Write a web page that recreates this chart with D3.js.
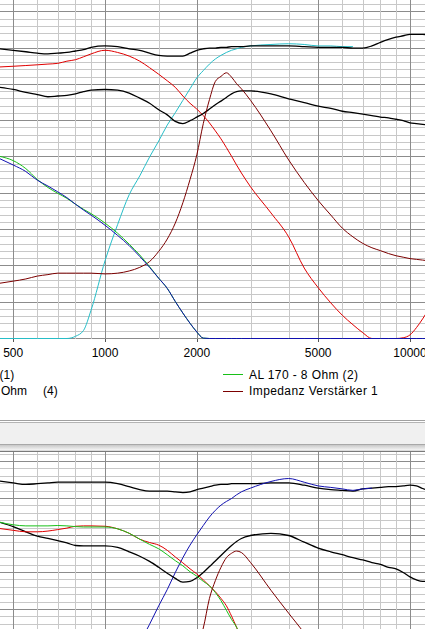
<!DOCTYPE html>
<html><head><meta charset="utf-8">
<script src="https://cdn.jsdelivr.net/npm/d3@7"></script>
<style>
html,body{margin:0;padding:0;background:#fff;overflow:hidden;}
svg{display:block;}
text{font-family:"Liberation Sans",Arial,sans-serif;fill:#000;}
</style></head><body>
<svg id="c" width="425" height="629"></svg>
<script>
// ---- data (frequency in Hz, level in dB) ----
const freqs = [450,500,550,600,650,700,750,800,850,900,
  1000,1100,1200,1300,1400,1500,1600,1700,1800,1900,
  2000,2100,2200,2300,2400,2500,2600,2700,2800,3000,
  3500,4000,4500,5000,5500,6000,6500,7000,7500,8000,
  8500,9000,9500,10000,10500,11000,11500];

// upper panel
const topBlackUpper = [84.9,84.7,84.5,84.3,84.2,84.3,84.4,84.6,84.8,85.1,
  85.3,85.2,84.9,84.7,84.3,84.0,83.9,83.9,83.9,84.3,
  84.7,84.9,85.0,85.0,85.1,85.1,85.2,85.2,85.2,85.3,
  85.3,85.3,85.2,85.1,85.1,85.1,85.0,85.0,85.3,85.8,
  86.2,86.5,86.7,86.9,86.9,86.9,86.8];
const topRed = [82.4,82.5,82.6,82.7,82.8,82.9,83.2,83.4,83.8,84.2,
  84.7,84.4,83.9,83.2,82.3,81.4,80.5,79.6,78.4,77.4,
  76.6,75.7,74.7,73.6,72.5,71.3,70.1,68.9,67.8,65.9,
  62.3,59.0,54.7,52.0,49.9,48.2,46.9,45.8,44.5,43.5,
  43.0,43.2,45.1,45.5,46.5,47.7,49.0];
const topBlackLower = [79.6,79.3,78.9,78.6,78.3,78.4,78.5,78.7,79.0,79.2,
  79.3,79.2,78.8,78.1,77.4,76.5,75.8,74.9,74.6,75.0,
  75.5,76.0,76.6,77.2,77.7,78.2,78.7,79.0,79.1,79.1,
  78.7,78.0,77.5,77.0,76.7,76.3,76.1,75.9,75.7,75.5,
  75.4,75.2,75.0,74.7,74.6,74.5,74.4];
const topCyan = [22,25,28,31,34,37,41,45.3,46.1,48.9,
  55.7,60.7,64.8,67.4,70.0,72.2,74.4,76.1,77.8,79.4,
  80.9,81.9,82.8,83.5,84.0,84.4,84.7,84.9,85.1,85.3,
  85.5,85.6,85.5,85.3,85.3,85.2,85.2,null,null,null,
  null,null,null,null,null,null,null];
const topGreen = [70.1,69.5,68.4,66.9,65.8,65.0,64.3,63.5,62.8,62.2,
  60.9,59.5,58.0,56.5,54.9,53.3,51.9,50.1,48.5,47.1,
  45.9,45.05,43.5,42,40.5,39,38,37,36,34,
  30,27,24,22,20,18,16,15,14,13,
  12,11,10,9,8,7,6];
const topBlue = [69.8,68.9,68.0,66.8,66.0,65.2,64.4,63.5,62.7,62.0,
  60.6,59.2,57.8,56.3,54.8,53.3,51.9,50.1,48.5,47.1,
  45.9,45.05,43.5,42,40.5,39,38,37,36,34,
  30,27,24,22,20,18,16,15,14,13,
  12,11,10,9,8,7,6];
const topDarkRed = [52.6,52.9,53.2,53.6,53.8,54.0,54.0,54.0,54.0,54.0,
  53.9,54.0,54.3,54.8,55.6,57.0,58.7,60.9,63.7,66.9,
  70.3,74.6,77.9,80.4,81.1,81.6,81.0,80.1,79.4,77.8,
  73.6,69.6,66.5,64.0,62.0,60.2,59.0,58.1,57.5,57.1,
  56.7,56.4,56.2,56.0,55.9,55.8,55.7];

// lower panel
const botBlackUpper = [87.35,87.1,86.9,87.0,87.1,87.2,87.2,87.2,87.2,87.2,
  87.2,87.0,86.6,86.2,86.0,86.0,86.0,85.9,85.8,85.9,
  86.2,86.4,86.6,86.8,86.9,86.9,87.0,87.0,87.0,87.0,
  87.1,87.1,86.8,86.4,86.2,86.1,86.0,86.3,86.4,86.5,
  86.6,86.6,86.7,86.8,86.7,86.35,86.1];
const botBlue = [null,null,null,null,null,null,null,null,null,null,
  null,null,63.0,65.5,68.0,70.5,72.7,75.0,77.0,78.7,
  80.1,81.35,82.5,83.4,84.1,84.6,85.0,85.5,85.9,86.4,
  87.3,87.7,87.2,86.7,86.5,86.3,86.1,86.3,86.4,null,
  null,null,null,null,null,null,null];
const botBlackLower = [81.8,81.2,80.5,79.9,79.6,79.3,79.0,78.65,78.6,78.6,
  78.6,78.4,77.8,77.2,76.5,75.7,74.9,74.2,73.7,73.8,
  74.3,75.0,75.8,76.55,77.3,78.0,78.65,79.2,79.6,80.0,
  80.3,80.0,79.1,78.3,77.8,77.4,77.0,76.7,76.35,76.1,
  75.7,75.5,75.0,74.4,74.0,73.8,73.8];
const botGreen = [81.8,81.45,81.3,81.3,81.3,81.35,81.3,81.2,81.15,81.15,
  81.15,80.9,80.3,79.5,78.8,78.2,77.4,76.6,75.9,75.1,
  74.5,73.8,73.2,72.3,71.2,69.9,68.65,67.6,66.0,62.0,
  null,null,null,null,null,null,null,null,null,null,
  null,null,null,null,null,null,null];
const botRed = [80.95,80.7,80.5,80.5,80.6,80.8,81.0,81.25,81.3,81.3,
  81.25,80.9,80.3,79.5,79.05,78.7,78.0,77.1,76.3,75.5,
  74.8,74.0,73.2,72.4,71.5,70.5,69.1,67.6,66.0,62.0,
  null,null,null,null,null,null,null,null,null,null,
  null,null,null,null,null,null,null];
const botDarkRed = [null,null,null,null,null,null,null,null,null,null,
  null,null,null,null,null,null,null,null,null,null,
  65.0,67.5,71.5,73.9,75.7,77.0,77.6,77.9,77.7,76.35,
  72.6,69.5,66.8,64.0,null,null,null,null,null,null,
  null,null,null,null,null,null,null];

const tickFreqs = [500,1000,2000,5000,10000];
const tickLabels = ["500","1000","2000","5000","10000"];
const minorFreqs = [600,700,800,900,1500,3000,4000,6000,7000,8000,9000];
const legendLeft = [["(1)",-0.5,378.5],["Ohm",1,395],["(4)",43,395]];
const legendRightLabels = ["AL 170 - 8 Ohm (2)","Impedanz Verstärker 1"];
const legendRightColors = ["#18c018","#7c0000"];

// ---- drawing ----
const W = 425, H = 629;
const svg = d3.select("#c");
const x = d3.scaleLog().domain([500,10000]).range([13.2,410]);
const yTop = d3.scaleLinear().domain([45,90]).range([338.5,11.8]).clamp(true);
const yTopGrid = yTop.copy().clamp(false);
const yBot = d3.scaleLinear().domain([70,90]).range([609.5,461.5]);

const defs = svg.append("defs");
defs.append("clipPath").attr("id","clipTop").append("rect").attr("x",0).attr("y",0).attr("width",W).attr("height",340);
defs.append("clipPath").attr("id","clipBot").append("rect").attr("x",0).attr("y",452).attr("width",W).attr("height",H-452);
const grad = defs.append("linearGradient").attr("id","shadow").attr("x1",0).attr("y1",0).attr("x2",0).attr("y2",1);
grad.append("stop").attr("offset","0").attr("stop-color","#c8c8c8");
grad.append("stop").attr("offset","1").attr("stop-color","#f4f4f4");

const px = v => Math.round(v) + 0.5;
const py = v => Math.floor(v) + 0.5;

function grid(g, yScale, vMin, vMax, y0, y1) {
  d3.range(vMin, vMax + 1).forEach(v => {
    const yy = yScale(v);
    if (yy < y0 - 1 || yy > y1 + 1) return;
    g.append("line").attr("x1",0).attr("x2",W).attr("y1",py(yy)).attr("y2",py(yy))
      .attr("stroke", v % 5 === 0 ? "#8c8c8c" : "#c8c8c8").attr("stroke-width",1);
  });
  minorFreqs.forEach(f => g.append("line").attr("x1",px(x(f))).attr("x2",px(x(f)))
    .attr("y1",y0).attr("y2",y1).attr("stroke","#c8c8c8"));
  tickFreqs.forEach(f => g.append("line").attr("x1",px(x(f))).attr("x2",px(x(f)))
    .attr("y1",y0).attr("y2",y1).attr("stroke","#8c8c8c"));
}

// top panel grid
const gTop = svg.append("g").attr("clip-path","url(#clipTop)");
grid(gTop, yTopGrid, 45, 92, 0, 339);

// ticks below top panel
svg.append("g").selectAll("line").data(tickFreqs).join("line")
  .attr("x1",d=>px(x(d))).attr("x2",d=>px(x(d))).attr("y1",339).attr("y2",342)
  .attr("stroke","#555");
svg.append("g").selectAll("text").data(tickFreqs).join("text")
  .attr("x",d=>x(d)).attr("y",357).attr("text-anchor","middle")
  .attr("font-size","12px").text((d,i)=>tickLabels[i]);

function drawSeries(g, yScale, values, color, width) {
  const pts = freqs.map((f,i)=>[f, values[i]]);
  const line = d3.line().defined(d=>d[1]!=null)
    .x(d=>x(d[0])).y(d=>yScale(d[1])).curve(d3.curveMonotoneX);
  g.append("path").attr("d", line(pts)).attr("fill","none")
    .attr("stroke",color).attr("stroke-width",width).attr("stroke-linejoin","round");
}

const cTop = svg.append("g").attr("clip-path","url(#clipTop)");
drawSeries(cTop, yTop, topCyan, "#26bec8", 1);
drawSeries(cTop, yTop, topBlackUpper, "#000", 1.3);
drawSeries(cTop, yTop, topRed, "#e00000", 1);
drawSeries(cTop, yTop, topBlackLower, "#000", 1.3);
drawSeries(cTop, yTop, topDarkRed, "#7c0000", 1);
drawSeries(cTop, yTop, topGreen, "#18c018", 1);
drawSeries(cTop, yTop, topBlue, "#1010b0", 1);

// legend
const lg = svg.append("g").attr("font-size","12px");
legendLeft.forEach(([t,lx,ly]) => lg.append("text").attr("x",lx).attr("y",ly).text(t));
legendRightLabels.forEach((t,i) => {
  const ly = [374.5, 391.5][i];
  lg.append("line").attr("x1",223).attr("x2",243).attr("y1",ly).attr("y2",ly)
    .attr("stroke",legendRightColors[i]).attr("stroke-width",1);
  lg.append("text").attr("x",249).attr("y",[378.5,395][i]).attr("letter-spacing","0.4px").text(t);
});

// separator between the two panels
const sep = svg.append("g");
sep.append("rect").attr("x",0).attr("y",420).attr("width",W).attr("height",1).attr("fill","#a0a0a0");
sep.append("rect").attr("x",0).attr("y",421).attr("width",W).attr("height",1).attr("fill","#ffffff");
sep.append("rect").attr("x",0).attr("y",422).attr("width",W).attr("height",1).attr("fill","#b4b4b4");
sep.append("rect").attr("x",0).attr("y",423).attr("width",W).attr("height",21).attr("fill","#f0f0f0");
sep.append("rect").attr("x",0).attr("y",444).attr("width",W).attr("height",1).attr("fill","#a8a8a8");
sep.append("rect").attr("x",0).attr("y",445).attr("width",W).attr("height",5).attr("fill","url(#shadow)");
sep.append("rect").attr("x",0).attr("y",450).attr("width",W).attr("height",1).attr("fill","#dcdcdc");
sep.append("rect").attr("x",0).attr("y",451).attr("width",W).attr("height",1).attr("fill","#7a7a7a");

// bottom panel
const gBot = svg.append("g").attr("clip-path","url(#clipBot)");
grid(gBot, yBot, 66, 93, 452, H);
const cBot = svg.append("g").attr("clip-path","url(#clipBot)");
drawSeries(cBot, yBot, botBlackUpper, "#000", 1.3);
drawSeries(cBot, yBot, botBlue, "#1010b0", 1);
drawSeries(cBot, yBot, botBlackLower, "#000", 1.3);
drawSeries(cBot, yBot, botRed, "#e00000", 1);
drawSeries(cBot, yBot, botGreen, "#18c018", 1);
drawSeries(cBot, yBot, botDarkRed, "#7c0000", 1);
</script>
</body></html>
